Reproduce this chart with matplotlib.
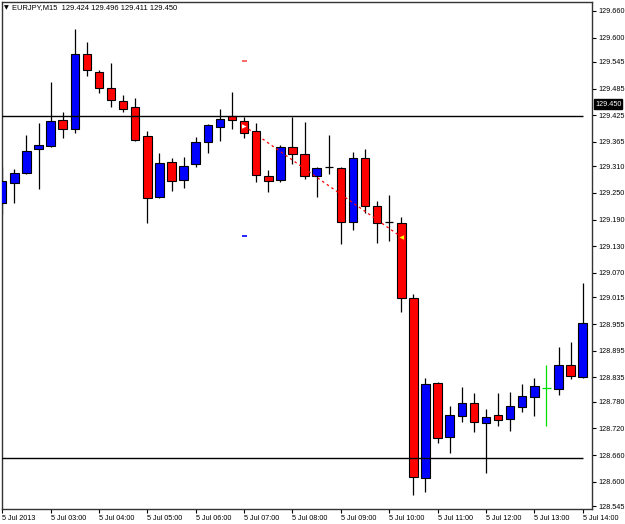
import matplotlib
matplotlib.use("Agg")
import matplotlib.pyplot as plt

# EURJPY M15 candles, 5 Jul 2013 02:00 .. 14:00
opens = [129.228, 129.273, 129.295, 129.349, 129.356, 129.415, 129.394, 129.563, 129.523, 129.487,
         129.457, 129.444, 129.379, 129.241, 129.320, 129.279, 129.315, 129.365, 129.399, 129.424,
         129.412, 129.390, 129.288, 129.279, 129.354, 129.338, 129.288, 129.309, 129.306, 129.185,
         129.329, 129.221, 129.185, 129.183, 129.014, 128.608, 128.822, 128.701, 128.748, 128.777,
         128.732, 128.750, 128.741, 128.768, 128.791, 128.811, 128.809, 128.863, 128.836]
highs = [129.309, 129.304, 129.381, 129.408, 129.500, 129.433, 129.619, 129.590, 129.527, 129.543,
         129.471, 129.464, 129.390, 129.340, 129.329, 129.331, 129.376, 129.405, 129.439, 129.478,
         129.421, 129.408, 129.302, 129.358, 129.421, 129.410, 129.309, 129.381, 129.309, 129.342,
         129.349, 129.232, 129.246, 129.196, 129.023, 128.834, 128.825, 128.771, 128.813, 128.800,
         128.764, 128.800, 128.802, 128.820, 128.834, 128.863, 128.904, 128.915, 129.047]
lows = [129.203, 129.228, 129.293, 129.259, 129.354, 129.374, 129.385, 129.514, 129.475, 129.444,
        129.433, 129.367, 129.183, 129.239, 129.255, 129.261, 129.309, 129.340, 129.367, 129.394,
        129.374, 129.275, 129.252, 129.275, 129.315, 129.282, 129.241, 129.293, 129.135, 129.167,
        129.205, 129.138, 129.142, 128.982, 128.570, 128.577, 128.687, 128.665, 128.734, 128.712,
        128.620, 128.725, 128.714, 128.757, 128.748, 128.725, 128.795, 128.831, 128.834]
closes = [129.277, 129.295, 129.345, 129.358, 129.412, 129.394, 129.563, 129.527, 129.487, 129.460,
          129.439, 129.370, 129.239, 129.318, 129.277, 129.311, 129.365, 129.403, 129.417, 129.415,
          129.385, 129.291, 129.277, 129.354, 129.338, 129.288, 129.306, 129.309, 129.185, 129.329,
          129.221, 129.183, 129.185, 129.014, 128.611, 128.820, 128.698, 128.750, 128.777, 128.734,
          128.746, 128.739, 128.771, 128.793, 128.816, 128.811, 128.863, 128.838, 128.957]

time_labels = ["5 Jul 2013", "5 Jul 03:00", "5 Jul 04:00", "5 Jul 05:00", "5 Jul 06:00",
               "5 Jul 07:00", "5 Jul 08:00", "5 Jul 09:00", "5 Jul 10:00", "5 Jul 11:00",
               "5 Jul 12:00", "5 Jul 13:00", "5 Jul 14:00"]
price_ticks = [129.660, 129.600, 129.545, 129.485, 129.425, 129.365, 129.310, 129.250, 129.190,
               129.130, 129.070, 129.015, 128.955, 128.895, 128.835, 128.780, 128.720, 128.660,
               128.600, 128.545]

hlines_levels = [129.424, 128.653]
trade_open = (20, 129.401)
trade_close = (33, 129.151)
tp_level = 129.547
sl_level = 129.153
header = "EURJPY,M15  129.424 129.496 129.411 129.450"
last_price = "129.450"

plt.rcParams['font.family'] = ['Liberation Sans', 'DejaVu Sans']

fig = plt.figure(figsize=(6.25, 5.24), dpi=100)
ax = fig.add_axes([2 / 625, 15 / 524, 590 / 625, 507 / 524])

# candles
for i in range(len(opens)):
    o, h, l, c = opens[i], highs[i], lows[i], closes[i]
    if o == c:
        col = '#00DD00' if i == 45 else 'black'
        ax.vlines(i, l, h, color=col, lw=0.9, zorder=3)
        ax.hlines(c, i - 0.35, i + 0.35, color=col, lw=0.9, zorder=3)
    else:
        ax.vlines(i, l, h, color='black', lw=0.9, zorder=2)
        col = 'blue' if c > o else 'red'
        ax.bar(i, abs(c - o), bottom=min(o, c), width=0.7, color=col,
               edgecolor='black', linewidth=0.8, zorder=3)

# horizontal lines
for lv in hlines_levels:
    ax.hlines(lv, -1, 48, color='black', lw=1.0, zorder=4)

# trade line and markers
ax.plot([trade_open[0], trade_close[0]], [trade_open[1], trade_close[1]],
        color='red', lw=0.9, ls=(0, (2, 2.5)), zorder=5)
ax.plot(trade_open[0], trade_open[1], marker='>', ms=4, color='white',
        markeredgecolor='red', mew=0.6, zorder=6)
ax.plot(trade_close[0], trade_close[1], marker='<', ms=4, color='yellow',
        markeredgecolor='red', mew=0.6, zorder=6)
ax.hlines(tp_level, trade_open[0] - 0.2, trade_open[0] + 0.25, color='#FF5050', lw=1.2)
ax.hlines(sl_level, trade_open[0] - 0.2, trade_open[0] + 0.25, color='blue', lw=1.2)

ax.set_xlim(-0.02, 48.77)
ax.set_ylim(128.5385, 129.680)

ax.set_xticks(range(0, 49, 4))
ax.set_xticklabels(time_labels, ha='left', fontsize=5.2)
ax.tick_params(axis='x', direction='out', length=3, width=0.8, pad=1.5)

ax.yaxis.tick_right()
ax.set_yticks(price_ticks)
ax.set_yticklabels(['%.3f' % v for v in price_ticks], fontsize=5.2)
ax.tick_params(axis='y', direction='out', length=3, width=0.8, pad=1.5)

for s in ax.spines.values():
    s.set_linewidth(1.0)
    s.set_color('#333333')

fig.text(4 / 625, 1 - 8 / 524, u"\u25BC", fontsize=4.5, va='center', ha='left',
         family='DejaVu Sans')
fig.text(12 / 625, 1 - 8 / 524, header, fontsize=5.4, va='center', ha='left')
fig.text(595 / 625, 1 - 104 / 524, last_price, fontsize=5.2, va='center', ha='left',
         color='white', bbox=dict(facecolor='black', edgecolor='black', pad=0.8))

fig.savefig('out.png', dpi=100)
